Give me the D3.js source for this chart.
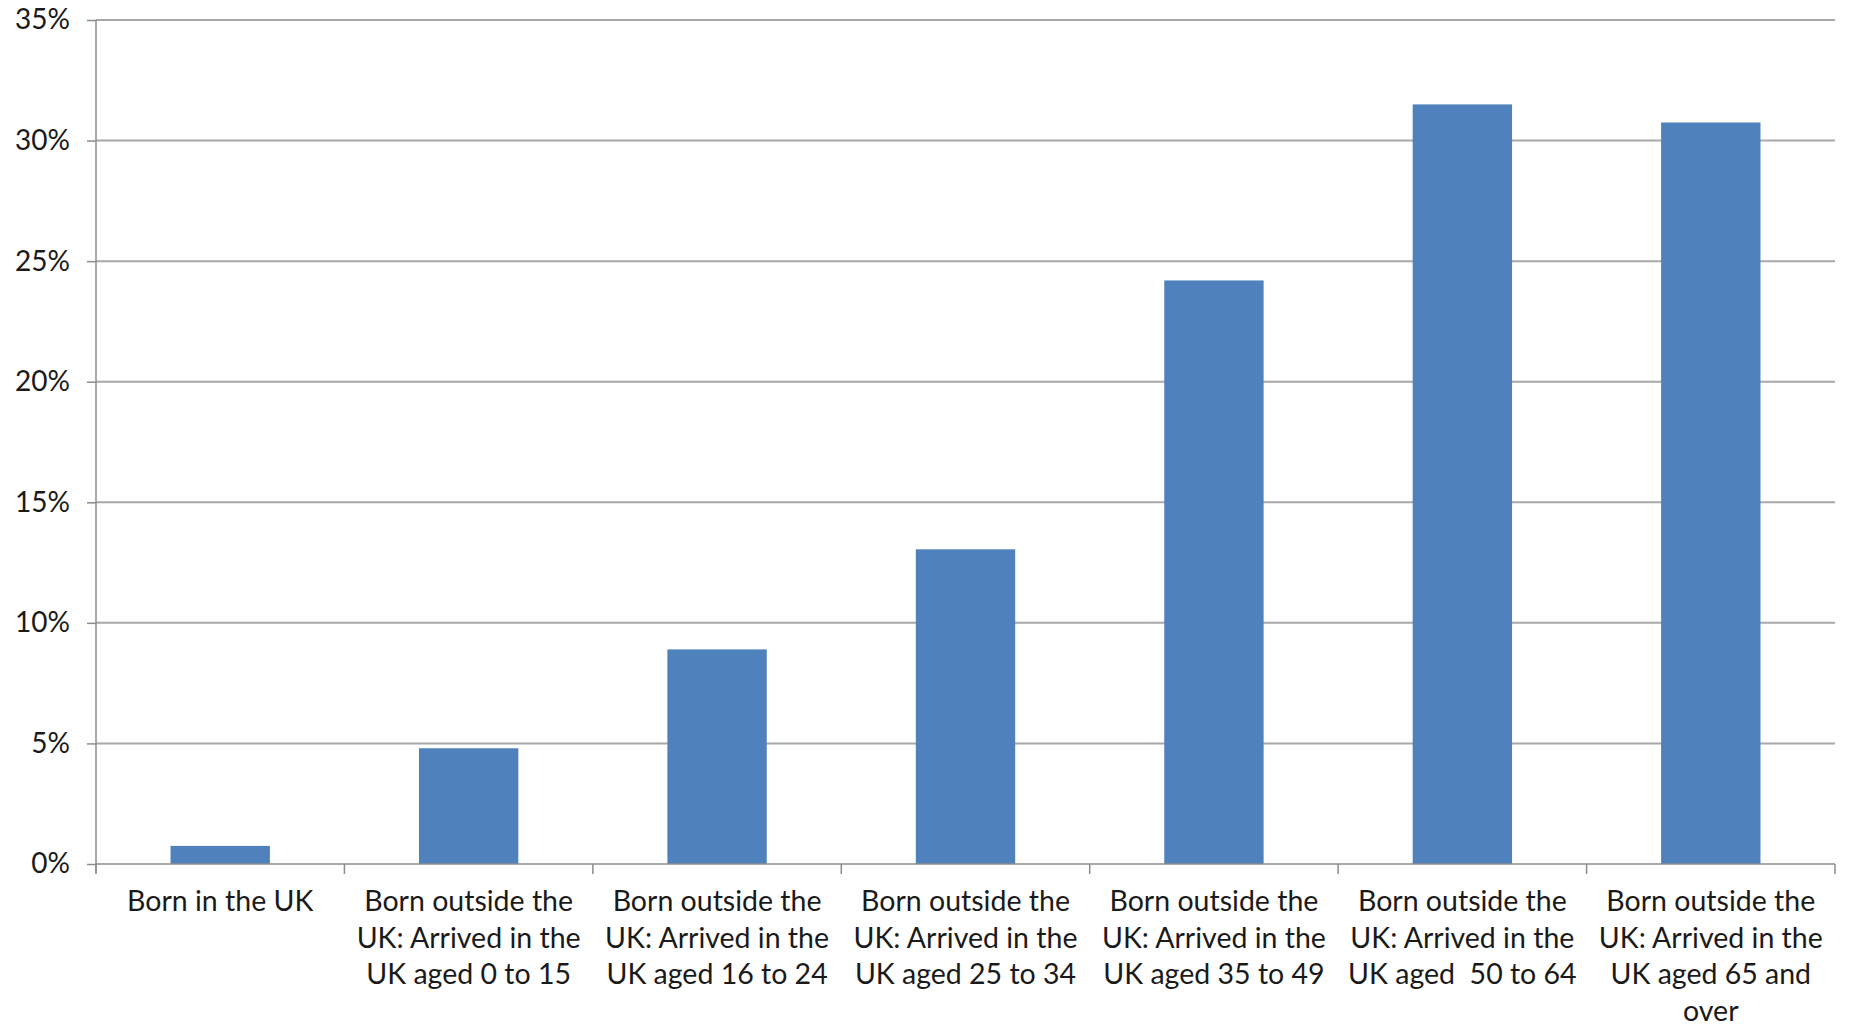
<!DOCTYPE html>
<html>
<head>
<meta charset="utf-8">
<script src="https://cdn.jsdelivr.net/npm/d3@7"></script>
<style>
  html, body { margin: 0; padding: 0; background: #fff; }
  svg { display: block; }
  text { font-family: Lato, "Open Sans", sans-serif; fill: #1a1a1a; }
</style>
</head>
<body>
<script>
const categories = [
  "Born in the UK",
  "Born outside the\nUK: Arrived in the\nUK aged 0 to 15",
  "Born outside the\nUK: Arrived in the\nUK aged 16 to 24",
  "Born outside the\nUK: Arrived in the\nUK aged 25 to 34",
  "Born outside the\nUK: Arrived in the\nUK aged 35 to 49",
  "Born outside the\nUK: Arrived in the\nUK aged  50 to 64",
  "Born outside the\nUK: Arrived in the\nUK aged 65 and\nover"
];
const values = [0.75, 4.8, 8.9, 13.05, 24.2, 31.5, 30.75];
const yTicks = [0, 5, 10, 15, 20, 25, 30, 35];

const W = 1849, H = 1026;
const mLeft = 96, mRight = 1835, mTop = 20, mBottom = 864;

const svg = d3.select("body").append("svg").attr("width", W).attr("height", H);

const x = d3.scaleBand().domain(categories).range([mLeft, mRight])
  .paddingInner(0.6).paddingOuter(0.3);
const xEdge = d3.scaleBand().domain(categories).range([mLeft, mRight]).padding(0);
const y = d3.scaleLinear().domain([0, 35]).range([mBottom, mTop]);

// gridlines
svg.append("g").selectAll("line").data(yTicks.filter(d => d > 0)).join("line")
  .attr("x1", mLeft).attr("x2", mRight)
  .attr("y1", d => y(d)).attr("y2", d => y(d))
  .attr("stroke", "#a8a8a8").attr("stroke-width", 2);

// bars
svg.append("g").selectAll("rect").data(values).join("rect")
  .attr("x", (d, i) => x(categories[i]))
  .attr("width", x.bandwidth())
  .attr("y", d => y(d))
  .attr("height", d => y(0) - y(d))
  .attr("fill", "#4f81bd");

// y axis
const yAxis = d3.axisLeft(y).tickValues(yTicks).tickSize(9).tickPadding(17)
  .tickFormat(d => d + "%");
const gy = svg.append("g").attr("transform", `translate(${mLeft},0)`).call(yAxis);
gy.select(".domain").attr("stroke", "#8c8c8c").attr("stroke-width", 1.5)
  .attr("d", `M0,${mTop}V${mBottom + 9}`);
gy.selectAll(".tick line").attr("stroke", "#8c8c8c").attr("stroke-width", 1.5);
gy.selectAll(".tick text").attr("font-size", 28).attr("font-family", "Lato, sans-serif").attr("fill", "#1a1a1a");

// x axis
const gx = svg.append("g").attr("transform", `translate(0,${mBottom})`);
gx.append("line").attr("x1", mLeft).attr("x2", mRight).attr("y1", 0).attr("y2", 0)
  .attr("stroke", "#8c8c8c").attr("stroke-width", 1.5);
const edges = categories.map(c => xEdge(c)).concat([mRight]);
gx.selectAll("line.tk").data(edges).join("line").attr("class", "tk")
  .attr("x1", d => d).attr("x2", d => d).attr("y1", 0).attr("y2", 10)
  .attr("stroke", "#8c8c8c").attr("stroke-width", 1.5);

const labels = gx.selectAll("text.lbl").data(categories).join("text").attr("class", "lbl")
  .attr("text-anchor", "middle").attr("font-size", 28.5)
  .attr("transform", d => `translate(${xEdge(d) + xEdge.bandwidth() / 2},0)`)
  .attr("xml:space", "preserve");
labels.each(function (d) {
  const t = d3.select(this);
  d.split("\n").forEach((line, i) => {
    t.append("tspan").attr("x", 0).attr("y", 47 + i * 36.5).text(line);
  });
});
</script>
</body>
</html>
